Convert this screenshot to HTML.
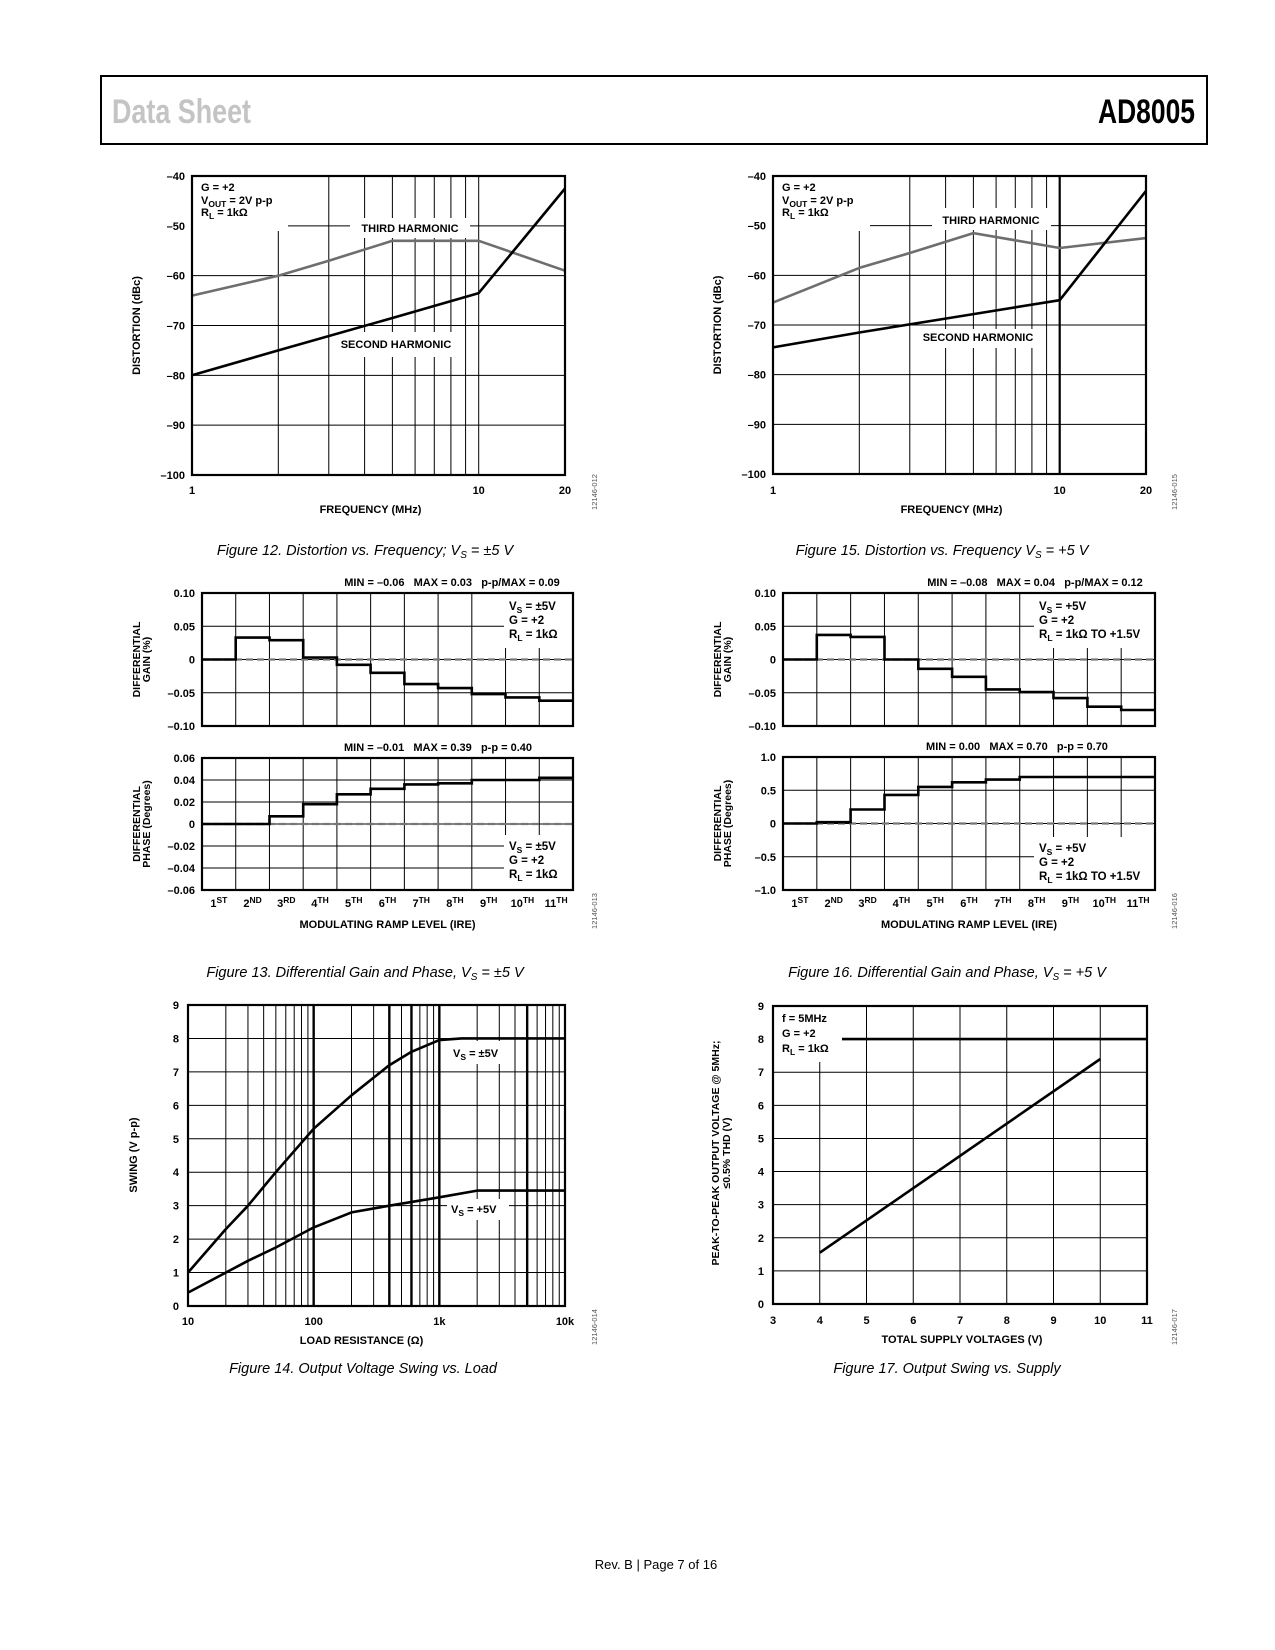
<!DOCTYPE html>
<html><head><meta charset="utf-8"><title>AD8005 Data Sheet page 7</title>
<style>
html,body{margin:0;padding:0;background:#fff;}
svg{display:block;font-family:"Liberation Sans",sans-serif;}
</style></head>
<body>
<svg id="page" xmlns="http://www.w3.org/2000/svg" width="1275" height="1650" viewBox="0 0 1275 1650">
<rect x="0" y="0" width="1275" height="1650" fill="#fff"/>
<rect x="101" y="76" width="1106" height="68" fill="none" stroke="#000" stroke-width="2"/>
<text x="112" y="123" font-size="34" fill="#c4c4c4" font-weight="bold" textLength="139" lengthAdjust="spacingAndGlyphs">Data Sheet</text>
<text x="1195" y="123" font-size="34" font-weight="bold" text-anchor="end" textLength="97" lengthAdjust="spacingAndGlyphs">AD8005</text>
<text x="656" y="1569" font-size="13" text-anchor="middle">Rev. B | Page 7 of 16</text>
</svg>
<script>
// ---------- DATA ----------
const f12Freq3=[1,2,3,5,10,20];
const f12Third=[-64,-60,-57,-53,-53,-59];
const f12Freq2=[1,2,5,10,20];
const f12Second=[-80,-75,-68.5,-63.5,-42.5];
const f15Freq3=[1,2,3,5,10,20];
const f15Third=[-65.5,-58.5,-55.5,-51.5,-54.5,-52.5];
const f15Freq2=[1,2,5,10,20];
const f15Second=[-74.5,-71.5,-67.8,-65,-43];
const distTicks=[-40,-50,-60,-70,-80,-90,-100];
const rampLabels=[['1','ST'],['2','ND'],['3','RD'],['4','TH'],['5','TH'],['6','TH'],['7','TH'],['8','TH'],['9','TH'],['10','TH'],['11','TH']];
const f13Gain=[0,0.033,0.029,0.003,-0.008,-0.02,-0.037,-0.043,-0.052,-0.057,-0.062];
const f13Phase=[0,0,0.007,0.018,0.027,0.032,0.036,0.037,0.040,0.040,0.042];
const f16Gain=[0,0.037,0.034,0,-0.014,-0.026,-0.045,-0.049,-0.058,-0.071,-0.076];
const f16Phase=[0,0.02,0.21,0.43,0.55,0.62,0.66,0.70,0.70,0.70,0.70];
const gainTicks=[0.10,0.05,0,-0.05,-0.10];
const f13PhaseTicks=[0.06,0.04,0.02,0,-0.02,-0.04,-0.06];
const f16PhaseTicks=[1.0,0.5,0,-0.5,-1.0];
const f14R1=[10,20,30,50,100,200,400,600,1000,1500,10000];
const f14Dual=[1.0,2.3,3.0,4.0,5.3,6.3,7.2,7.6,7.95,8.0,8.0];
const f14R2=[10,20,30,50,100,200,400,1000,2000,10000];
const f14Single=[0.4,1.0,1.35,1.75,2.35,2.8,3.0,3.25,3.45,3.45];
const f17Supply=[4,10];
const f17Swing=[1.55,7.4];
const f17LimitX=[3,11];
const f17LimitY=[8,8];

// ---------- HELPERS ----------
const NS='http://www.w3.org/2000/svg';
const svg=document.getElementById('page');
function mk(tag,parent,name,attrs){
  const el=document.createElementNS(NS,tag);
  
  
  for(const k in attrs) el.setAttribute(k,attrs[k]);
  parent.appendChild(el);
  return el;
}
function grp(name){return mk('g',svg,name,{});}
function txt(p,name,x,y,html,o){
  o=o||{};
  const el=mk('text',p,name,{x:x,y:y,'font-size':o.size||11,'font-weight':o.weight||'bold','text-anchor':o.anchor||'start',fill:o.fill||'#000'});
  if(o.style) el.setAttribute('font-style',o.style);
  if(o.rot) el.setAttribute('transform','rotate(-90 '+x+' '+y+')');
  el.innerHTML=html;
  return el;
}
function lin(v,d0,d1,r0,r1){return r0+(v-d0)/(d1-d0)*(r1-r0);}
function lg(v,d0,d1,r0,r1){return r0+(Math.log10(v)-Math.log10(d0))/(Math.log10(d1)-Math.log10(d0))*(r1-r0);}
function hline(p,name,x0,x1,y,w){mk('line',p,name,{x1:x0,x2:x1,y1:y,y2:y,stroke:'#000','stroke-width':w||1});}
function vline(p,name,x,y0,y1,w){mk('line',p,name,{x1:x,x2:x,y1:y0,y2:y1,stroke:'#000','stroke-width':w||1});}
function white(p,name,x,y,w,h){mk('rect',p,name,{x:x,y:y,width:w,height:h,fill:'#fff'});}
function frame(p,L,T,R,B){mk('rect',p,'plot-frame',{x:L,y:T,width:R-L,height:B-T,fill:'none',stroke:'#000','stroke-width':2.2});}
function polyline(p,name,xs,ys,fx,fy,color,w){
  let d='';
  for(let i=0;i<xs.length;i++) d+=(i?'L':'M')+fx(xs[i]).toFixed(1)+','+fy(ys[i]).toFixed(1);
  mk('path',p,name,{d:d,fill:'none',stroke:color,'stroke-width':w||2.6,'stroke-linejoin':'round'});
}
function sub(s){return '<tspan font-size="8.5" dy="3">'+s+'</tspan><tspan dy="-3">';}
function sup(s){return '<tspan font-size="8.5" dy="-4">'+s+'</tspan>';}
function idText(p,x,y,s){txt(p,'figure-id',x,y,s,{size:7.5,weight:'normal',anchor:'middle',fill:'#555',rot:true});}
function caption(p,x,y,html){txt(p,'figure-caption',x,y,html,{size:14.5,weight:'normal',style:'italic',anchor:'middle'});}
function fmt(v){return (v<0?'\u2013':'')+Math.abs(v);}

// ---------- DISTORTION CHARTS ----------
function distChart(name,L,R,T,B,f3,v3,f2,v2,thick10,boxes,lab3,lab2,cap,idStr,idX){
  const g=grp(name);
  const fx=v=>lg(v,1,20,L,R), fy=v=>lin(v,-40,-100,T,B);
  distTicks.forEach(t=>{hline(g,'y-gridline',L,R,fy(t)); txt(g,'y-tick-label',L-7,fy(t)+4,fmt(t),{anchor:'end'});});
  for(let f=2;f<=10;f++) vline(g,'x-gridline',fx(f),T,B,(f===10&&thick10)?2.2:1);
  boxes.forEach(b=>white(g,'label-background',b[0],b[1],b[2],b[3]));
  polyline(g,'third-harmonic-line',f3,v3,fx,fy,'#6e6e6e',2.6);
  polyline(g,'second-harmonic-line',f2,v2,fx,fy,'#000',2.6);
  frame(g,L,T,R,B);
  txt(g,'x-tick-label',fx(1),494,'1',{anchor:'middle'});
  txt(g,'x-tick-label',fx(10),494,'10',{anchor:'middle'});
  txt(g,'x-tick-label',fx(20),494,'20',{anchor:'middle'});
  txt(g,'x-axis-title',(L+R)/2-8,513,'FREQUENCY (MHz)',{anchor:'middle'});
  txt(g,'y-axis-title',L-52,(T+B)/2,'DISTORTION (dBc)',{anchor:'middle',rot:true});
  txt(g,'condition-gain',L+9,T+15,'G = +2');
  txt(g,'condition-vout',L+9,T+28,'V'+sub('OUT')+' = 2V p-p</tspan>');
  txt(g,'condition-rl',L+9,T+40,'R'+sub('L')+' = 1k\u03A9</tspan>');
  txt(g,'third-harmonic-label',lab3[0],lab3[1],'THIRD HARMONIC',{anchor:'middle'});
  txt(g,'second-harmonic-label',lab2[0],lab2[1],'SECOND HARMONIC',{anchor:'middle'});
  caption(g,cap[0],cap[1],cap[2]);
  idText(g,idX,492,idStr);
}
distChart('chart-fig12-distortion',192,565,176,475,f12Freq3,f12Third,f12Freq2,f12Second,false,
  [[193,177,95,54],[350,218,120,20],[330,332,130,25]],[410,232],[396,348],
  [365,555,'Figure 12. Distortion vs. Frequency; V<tspan font-size="10" dy="3">S</tspan><tspan dy="-3"> = \u00B15 V</tspan>'],'12146-012',597);
distChart('chart-fig15-distortion',773,1146,176,474,f15Freq3,f15Third,f15Freq2,f15Second,true,
  [[774,177,96,54],[932,208,119,22],[913,329,129,19]],[991,224],[978,341],
  [942,555,'Figure 15. Distortion vs. Frequency V<tspan font-size="10" dy="3">S</tspan><tspan dy="-3"> = +5 V</tspan>'],'12146-015',1177);

// ---------- DIFF GAIN / PHASE ----------
function stepPanel(g,name,L,R,T,B,vals,ticks,lo,hi,box,legend,legOff,header,headerX,titleLines,fmtTick){
  const n=vals.length, cw=(R-L)/n;
  const fy=v=>lin(v,hi,lo,T,B), fx=i=>L+i*cw;
  ticks.forEach(t=>{hline(g,'y-gridline',L,R,fy(t)); txt(g,'y-tick-label',L-7,fy(t)+4,fmtTick(t),{anchor:'end'});});
  for(let i=1;i<n;i++) vline(g,'x-gridline',fx(i),T,B);
  white(g,'legend-background',box[0],box[1],box[2],box[3]);
  mk('line',g,'zero-reference-line',{x1:L,x2:R,y1:fy(0),y2:fy(0),stroke:'#777','stroke-width':2.2,'stroke-dasharray':'7 4'});
  let d='M'+fx(0)+','+fy(vals[0]).toFixed(1);
  for(let i=0;i<n;i++){ d+='V'+fy(vals[i]).toFixed(1)+'H'+fx(i+1).toFixed(1); }
  mk('path',g,name,{d:d,fill:'none',stroke:'#000','stroke-width':2.6});
  frame(g,L,T,R,B);
  txt(g,'panel-stats-header',headerX,T-7,header,{anchor:'middle'});
  legend.forEach((s,i)=>txt(g,'legend-line',box[0]+5,box[1]+legOff+i*14,s,{size:11.5}));
  txt(g,'y-axis-title',L-62,(T+B)/2,titleLines[0],{anchor:'middle',rot:true,size:10.5});
  txt(g,'y-axis-title',L-52,(T+B)/2,titleLines[1],{anchor:'middle',rot:true,size:10.5});
}
function dgChart(name,L,R,gT,gB,pT,pB,gain,phase,phTicks,phLo,phHi,gBox,pBox,vs,rl,gHead,pHead,gHX,pHX,cap,idStr,idX,phFmt){
  const g=grp(name);
  const leg=['V'+sub('S')+' = '+vs+'</tspan>','G = +2','R'+sub('L')+' = '+rl+'</tspan>'];
  stepPanel(g,'differential-gain-steps',L,R,gT,gB,gain,gainTicks,-0.10,0.10,gBox,leg,16,gHead,gHX,['DIFFERENTIAL','GAIN (%)'],t=>(t<0?'\u2013':'')+Math.abs(t).toFixed(t===0?0:2));
  stepPanel(g,'differential-phase-steps',L,R,pT,pB,phase,phTicks,phLo,phHi,pBox,leg,15,pHead,pHX,['DIFFERENTIAL','PHASE (Degrees)'],phFmt);
  const cw=(R-L)/rampLabels.length;
  rampLabels.forEach((r,i)=>txt(g,'x-tick-label',L+cw*(i+0.5),pB+17,r[0]+sup(r[1]),{anchor:'middle'}));
  txt(g,'x-axis-title',(L+R)/2,pB+38,'MODULATING RAMP LEVEL (IRE)',{anchor:'middle'});
  caption(g,cap[0],cap[1],cap[2]);
  idText(g,idX,pB+21,idStr);
}
dgChart('chart-fig13-diff-gain-phase',202,573,593,726,758,890,f13Gain,f13Phase,f13PhaseTicks,-0.06,0.06,
  [504,594,68,54],[504,835,69,55],'\u00B15V','1k\u03A9',
  'MIN = \u20130.06&#160;&#160;&#160;MAX = 0.03&#160;&#160;&#160;p-p/MAX = 0.09','MIN = \u20130.01&#160;&#160;&#160;MAX = 0.39&#160;&#160;&#160;p-p = 0.40',452,438,
  [365,977,'Figure 13. Differential Gain and Phase, V<tspan font-size="10" dy="3">S</tspan><tspan dy="-3"> = \u00B15 V</tspan>'],'12146-013',597,
  t=>(t<0?'\u2013':'')+Math.abs(t).toFixed(t===0?0:2));
dgChart('chart-fig16-diff-gain-phase',783,1155,593,726,757,890,f16Gain,f16Phase,f16PhaseTicks,-1.0,1.0,
  [1034,594,120,54],[1034,837,120,52],'+5V','1k\u03A9 TO +1.5V',
  'MIN = \u20130.08&#160;&#160;&#160;MAX = 0.04&#160;&#160;&#160;p-p/MAX = 0.12','MIN = 0.00&#160;&#160;&#160;MAX = 0.70&#160;&#160;&#160;p-p = 0.70',1035,1017,
  [947,977,'Figure 16. Differential Gain and Phase, V<tspan font-size="10" dy="3">S</tspan><tspan dy="-3"> = +5 V</tspan>'],'12146-016',1177,
  t=>(t<0?'\u2013':'')+Math.abs(t).toFixed(t===0?0:1));

// ---------- FIG 14 SWING vs LOAD ----------
(function(){
  const L=188,R=565,T=1005,B=1306;
  const g=grp('chart-fig14-swing-vs-load');
  const fx=v=>lg(v,10,10000,L,R), fy=v=>lin(v,0,9,B,T);
  for(let t=0;t<=9;t++){hline(g,'y-gridline',L,R,fy(t)); txt(g,'y-tick-label',L-9,fy(t)+4,String(t),{anchor:'end'});}
  const thick=[100,400,600,1000,5000];
  [10,100,1000].forEach(dec=>{for(let m=1;m<=9;m++){const v=dec*m; if(v===10) continue; vline(g,'x-gridline',fx(v),T,B,thick.indexOf(v)>=0?2.4:1);}});
  white(g,'label-background',449,1041,58,23);
  white(g,'label-background',447,1199,62,21);
  polyline(g,'swing-dual-supply-line',f14R1,f14Dual,fx,fy,'#000',2.6);
  polyline(g,'swing-single-supply-line',f14R2,f14Single,fx,fy,'#000',2.6);
  frame(g,L,T,R,B);
  [[10,'10'],[100,'100'],[1000,'1k'],[10000,'10k']].forEach(a=>txt(g,'x-tick-label',fx(a[0]),1325,a[1],{anchor:'middle'}));
  txt(g,'x-axis-title',(L+R)/2-15,1344,'LOAD RESISTANCE (\u03A9)',{anchor:'middle'});
  txt(g,'y-axis-title',137,1155,'SWING (V p-p)',{anchor:'middle',rot:true});
  txt(g,'series-label-dual',453,1057,'V'+sub('S')+' = \u00B15V</tspan>');
  txt(g,'series-label-single',451,1213,'V'+sub('S')+' = +5V</tspan>');
  caption(g,363,1373,'Figure 14. Output Voltage Swing vs. Load');
  idText(g,597,1327,'12146-014');
})();

// ---------- FIG 17 SWING vs SUPPLY ----------
(function(){
  const L=773,R=1147,T=1006,B=1304;
  const g=grp('chart-fig17-swing-vs-supply');
  const fx=v=>lin(v,3,11,L,R), fy=v=>lin(v,0,9,B,T);
  for(let t=0;t<=9;t++){hline(g,'y-gridline',L,R,fy(t)); txt(g,'y-tick-label',L-9,fy(t)+4,String(t),{anchor:'end'});}
  for(let v=4;v<=10;v++) vline(g,'x-gridline',fx(v),T,B);
  polyline(g,'max-swing-limit-line',f17LimitX,f17LimitY,fx,fy,'#000',2.6);
  white(g,'legend-background',774,1007,68,55);
  polyline(g,'swing-vs-supply-line',f17Supply,f17Swing,fx,fy,'#000',2.6);
  frame(g,L,T,R,B);
  for(let v=3;v<=11;v++) txt(g,'x-tick-label',fx(v),1324,String(v),{anchor:'middle'});
  txt(g,'x-axis-title',962,1343,'TOTAL SUPPLY VOLTAGES (V)',{anchor:'middle'});
  txt(g,'y-axis-title',719,1153,'PEAK-TO-PEAK OUTPUT VOLTAGE @ 5MHz;',{anchor:'middle',rot:true,size:10.5});
  txt(g,'y-axis-title',730,1153,'\u22640.5% THD (V)',{anchor:'middle',rot:true,size:10.5});
  txt(g,'condition-frequency',782,1022,'f = 5MHz');
  txt(g,'condition-gain',782,1037,'G = +2');
  txt(g,'condition-rl',782,1052,'R'+sub('L')+' = 1k\u03A9</tspan>');
  caption(g,947,1373,'Figure 17. Output Swing vs. Supply');
  idText(g,1177,1327,'12146-017');
})();
</script>
</body></html>
